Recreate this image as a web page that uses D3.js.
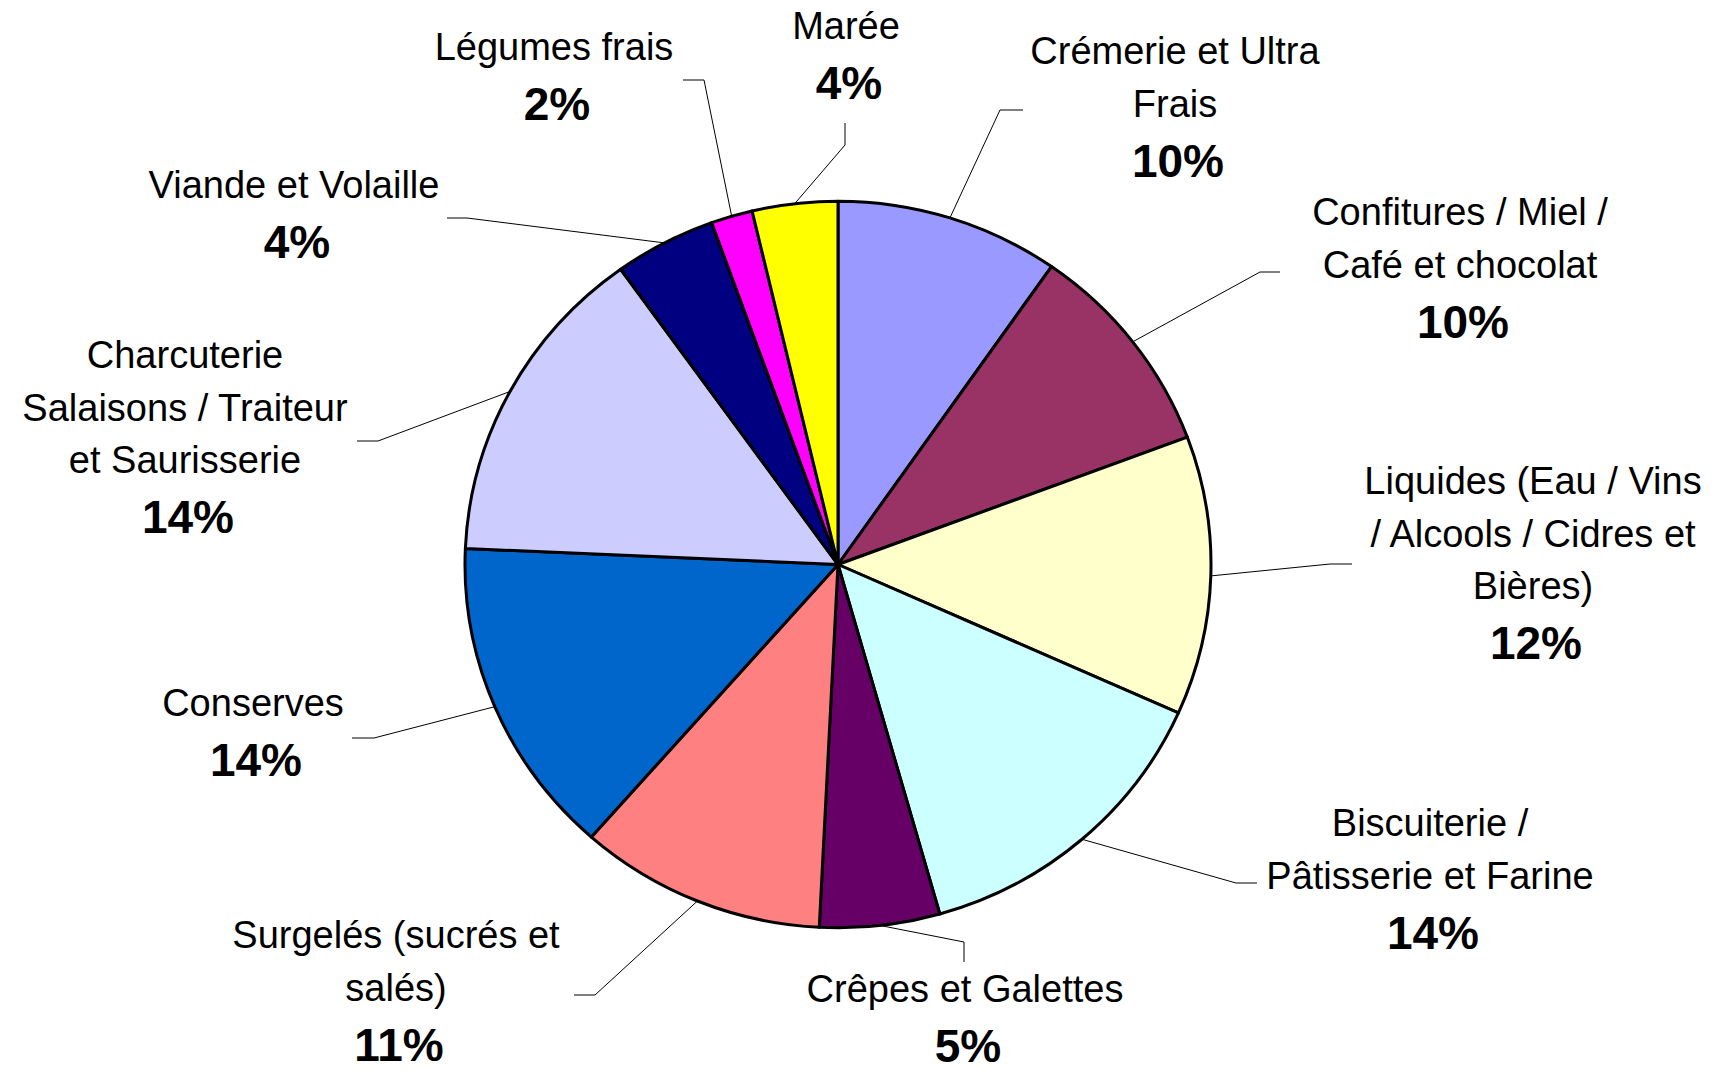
<!DOCTYPE html>
<html>
<head>
<meta charset="utf-8">
<script src="https://cdn.jsdelivr.net/npm/d3@7/dist/d3.min.js"></script>
<style>
  html, body { margin: 0; padding: 0; background: #ffffff; }
  svg { display: block; }
  text { font-family: "Liberation Sans", Arial, sans-serif; fill: #000; }
</style>
</head>
<body>
<svg id="chart" width="1718" height="1072"></svg>
<script>
// ---- Data (clockwise from 12 o'clock) ----
const categories = [
  "Crémerie et Ultra Frais",
  "Confitures / Miel / Café et chocolat",
  "Liquides (Eau / Vins / Alcools / Cidres et Bières)",
  "Biscuiterie / Pâtisserie et Farine",
  "Crêpes et Galettes",
  "Surgelés (sucrés et salés)",
  "Conserves",
  "Charcuterie Salaisons / Traiteur et Saurisserie",
  "Viande et Volaille",
  "Légumes frais",
  "Marée"
];
const values = [9.7, 9.6, 12.4, 13.9, 5.2, 10.7, 14.2, 14.4, 4.4, 1.8, 3.7];
const colors = ["#9999FF", "#993366", "#FFFFCC", "#CCFFFF", "#660066", "#FF8080",
                "#0066CC", "#CCCCFF", "#000080", "#FF00FF", "#FFFF00"];
// wrapped label lines, as in the picture
const labelLines = [
  ["Crémerie et Ultra", "Frais"],
  ["Confitures / Miel /", "Café et chocolat"],
  ["Liquides (Eau / Vins", "/ Alcools / Cidres et", "Bières)"],
  ["Biscuiterie /", "Pâtisserie et Farine"],
  ["Crêpes et Galettes"],
  ["Surgelés (sucrés et", "salés)"],
  ["Conserves"],
  ["Charcuterie", "Salaisons / Traiteur", "et Saurisserie"],
  ["Viande et Volaille"],
  ["Légumes frais"],
  ["Marée"]
];

// ---- Layout (label placement and leader elbows) ----
const labelX      = [1175, 1460, 1533, 1430, 965, 396, 253, 185, 294, 554, 846];
const labelY      = [64, 225, 494, 836, 1002, 948, 716, 368, 198, 60, 39];
const elbowX      = [1000, 1260, 1330, 1236, 964, 595, 374, 378, 467, 704, 845];
const elbowY      = [110, 272, 564, 883, 942, 995, 738, 441, 218, 80, 145];
const endX        = [1023, 1280, 1352, 1257, 964, 574, 352, 357, 447, 683, 845];
const endY        = [110, 272, 564, 883, 962, 995, 738, 441, 218, 80, 123];

const W = 1718, H = 1072;
const cx = 838, cy = 564.5, R = 373, ky = 0.974;
const lineGap = 52.6, pctGap = 60;

const svg = d3.select("#chart");
const total = d3.sum(values);

const pie = d3.pie().sort(null).value(d => d).startAngle(0).endAngle(2 * Math.PI);
const arcs = pie(values);
const arc = d3.arc().innerRadius(0).outerRadius(R);

const g = svg.append("g").attr("transform", `translate(${cx},${cy}) scale(1,${ky})`);
g.selectAll("path.slice")
  .data(arcs)
  .join("path")
  .attr("class", "slice")
  .attr("d", arc)
  .attr("fill", (d, i) => colors[i])
  .attr("stroke", "#000")
  .attr("stroke-width", 3)
  .attr("stroke-linejoin", "round")
  .attr("vector-effect", "non-scaling-stroke");

// leader lines
const leaders = svg.append("g");
arcs.forEach((d, i) => {
  const a = (d.startAngle + d.endAngle) / 2;
  const sx = cx + R * Math.sin(a);
  const sy = cy - R * ky * Math.cos(a);
  leaders.append("path")
    .attr("d", d3.line()([[sx, sy], [elbowX[i], elbowY[i]], [endX[i], endY[i]]]))
    .attr("fill", "none")
    .attr("stroke", "#000")
    .attr("stroke-width", 1);
});

// labels
const labels = svg.append("g");
arcs.forEach((d, i) => {
  const lines = labelLines[i];
  lines.forEach((t, j) => {
    labels.append("text")
      .attr("x", labelX[i])
      .attr("y", labelY[i] + j * lineGap)
      .attr("text-anchor", "middle")
      .attr("font-size", 38)
      .text(t);
  });
  labels.append("text")
    .attr("x", labelX[i] + 3)
    .attr("y", labelY[i] + (lines.length - 1) * lineGap + pctGap)
    .attr("text-anchor", "middle")
    .attr("font-size", 46)
    .attr("font-weight", "bold")
    .text(Math.round(values[i] / total * 100) + "%");
});
</script>
</body>
</html>
